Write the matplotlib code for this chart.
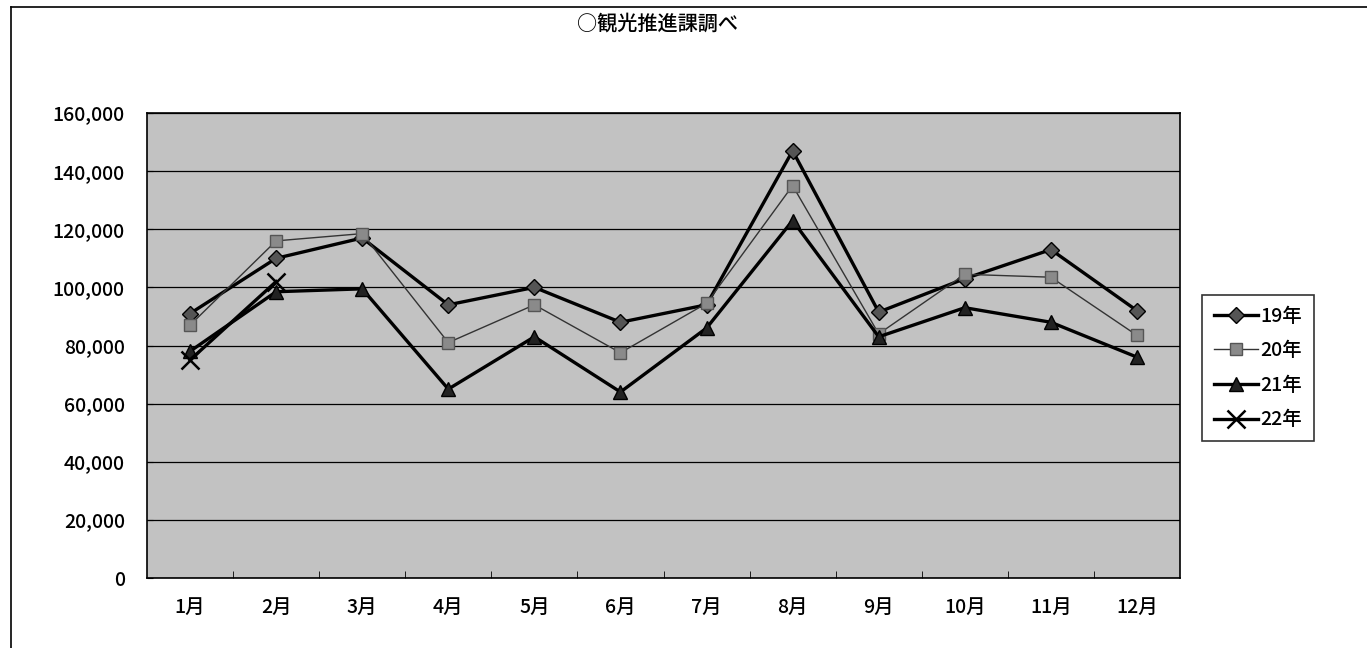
import matplotlib.pyplot as plt
from matplotlib.lines import Line2D
from matplotlib.ticker import FuncFormatter

plt.rcParams['font.family'] = ['Noto Sans CJK JP', 'DejaVu Sans']
plt.rcParams['font.weight'] = 'medium'

months = ["1月", "2月", "3月", "4月", "5月", "6月",
          "7月", "8月", "9月", "10月", "11月", "12月"]

y19 = [91000, 110000, 117000, 94000, 100000, 88000,
       94000, 147000, 91500, 103000, 113000, 92000]
y20 = [87000, 116000, 118500, 81000, 94000, 77500,
       94500, 135000, 84000, 104500, 103500, 83500]
y21 = [78000, 98500, 99500, 65000, 83000, 64000,
       86000, 123000, 83000, 93000, 88000, 76000]
y22 = [75000, 102000]

series = [
    ("19年", y19, dict(color="black", lw=2.4, marker="D", ms=8,
                       mfc="#555555", mec="black")),
    ("20年", y20, dict(color="#333333", lw=1.0, marker="s", ms=9,
                       mfc="#8a8a8a", mec="#555555")),
    ("21年", y21, dict(color="black", lw=2.4, marker="^", ms=10,
                       mfc="#222222", mec="black")),
    ("22年", y22, dict(color="black", lw=2.4, marker="x", ms=13,
                       mew=1.8)),
]

fig = plt.figure(figsize=(13.67, 6.48), dpi=100)
ax = fig.add_axes([147 / 1367, 1 - 578 / 648, 1033 / 1367, 465 / 648])
ax.set_facecolor("#c2c2c2")

x = list(range(len(months)))
handles = []
for name, vals, st in series:
    ln, = ax.plot(x[:len(vals)], vals, label=name, zorder=3, **st)
    handles.append(ln)

ax.set_xlim(-0.5, len(months) - 0.5)
ax.set_ylim(0, 160000)
ax.set_yticks(range(0, 160001, 20000))
ax.yaxis.set_major_formatter(FuncFormatter(lambda v, p: f"{int(v):,}"))
ax.set_xticks(x)
ax.set_xticklabels(months)
ax.set_xticks([i + 0.5 for i in range(len(months) - 1)], minor=True)
ax.tick_params(axis="x", which="major", length=0, pad=14, labelsize=14)
ax.tick_params(axis="x", which="minor", length=5, direction="in")
ax.tick_params(axis="y", length=4, direction="in", pad=16, labelsize=14)
ax.grid(axis="y", color="black", lw=0.9)
ax.set_axisbelow(True)
for sp in ax.spines.values():
    sp.set_color("black")
    sp.set_linewidth(1.2)

fig.text(658 / 1367, 1 - 24 / 648, "○観光推進課調べ", ha="center",
         va="center", fontsize=14.5)

leg = fig.legend(handles=handles, loc="upper left",
                 bbox_to_anchor=(1202 / 1367, 1 - 295 / 648),
                 frameon=True, fancybox=False, fontsize=14,
                 handlelength=2.3, handletextpad=0.1, labelspacing=0.8,
                 borderpad=0.6, borderaxespad=0)
leg.get_frame().set_edgecolor("black")
leg.get_frame().set_linewidth(1.2)

# outer chart border (top and left visible in the scan)
fig.add_artist(Line2D([11 / 1367, 11 / 1367], [0, 1 - 7 / 648],
                      color="black", lw=1.2))
fig.add_artist(Line2D([11 / 1367, 1], [1 - 7 / 648, 1 - 7 / 648],
                      color="black", lw=1.2))

fig.savefig("out.png", dpi=100)
